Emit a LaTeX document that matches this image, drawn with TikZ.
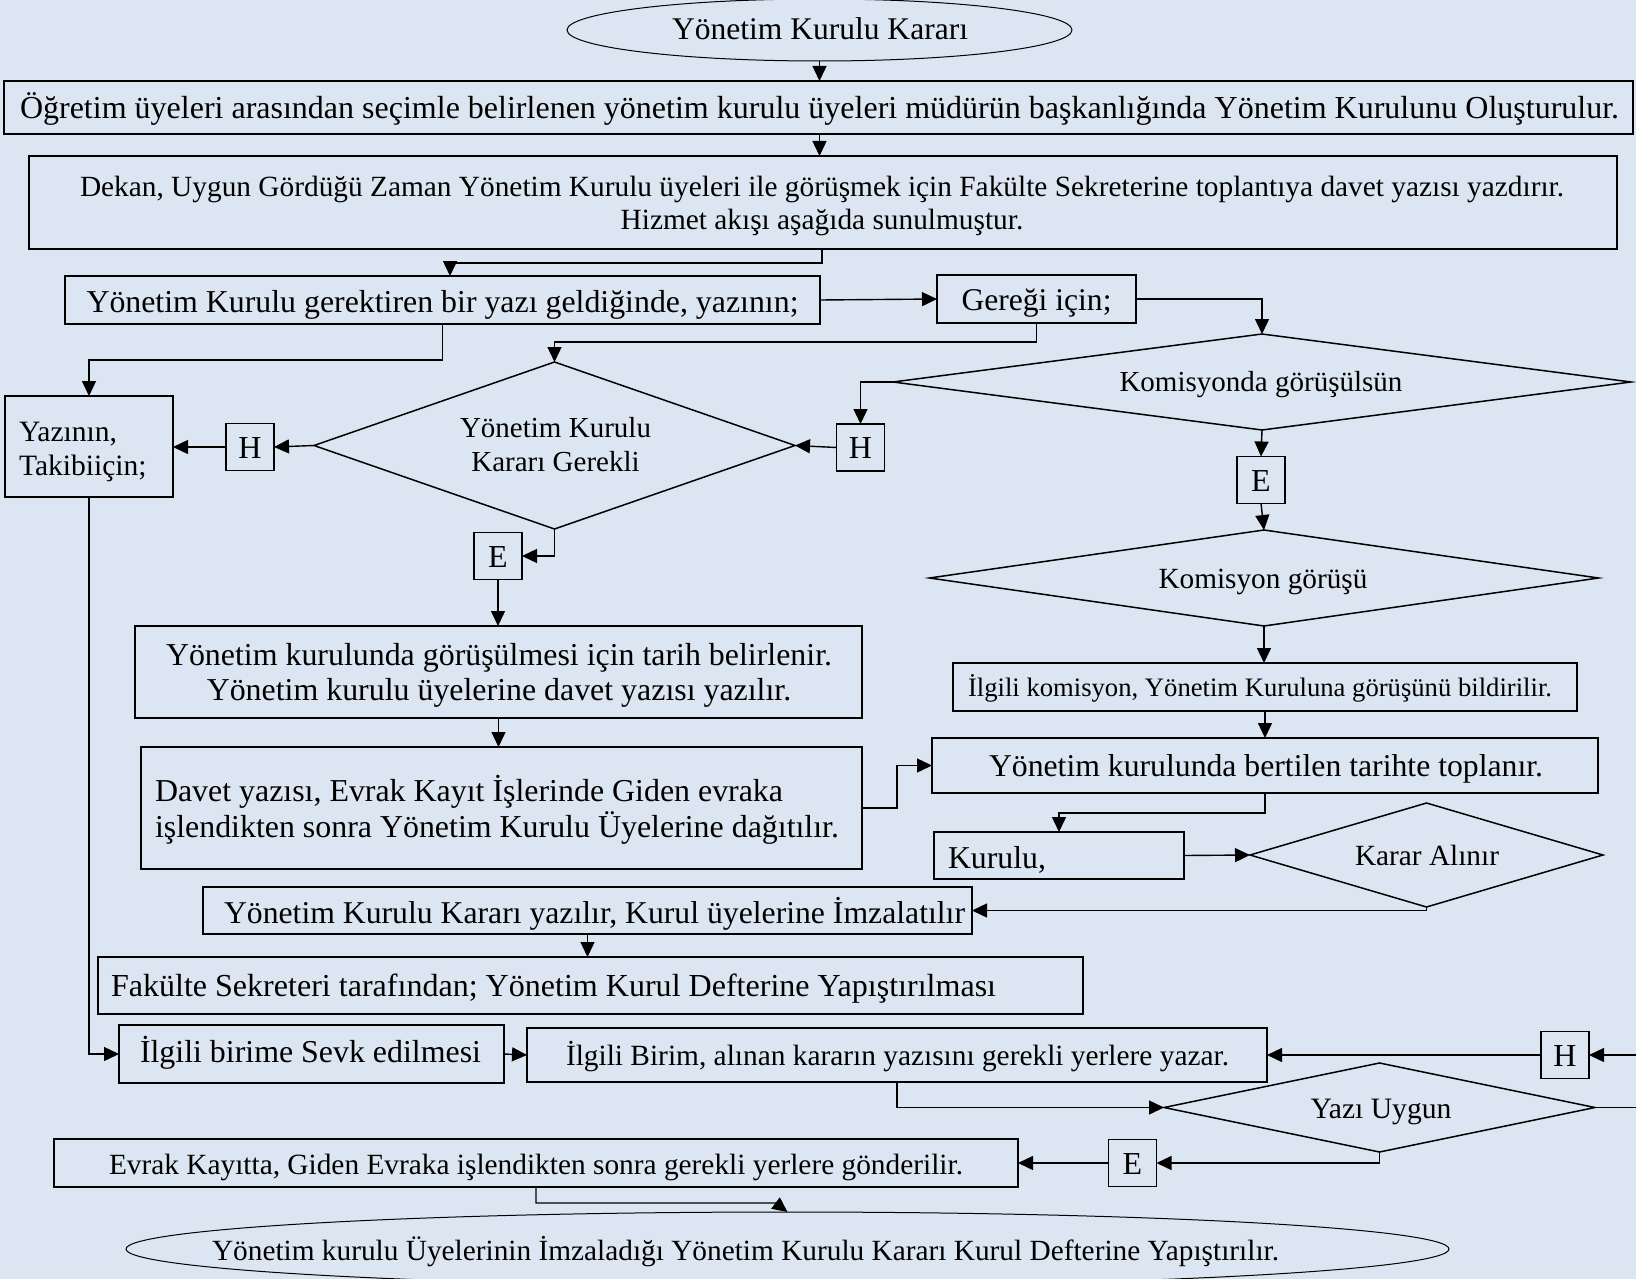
\documentclass[tikz,border=0pt]{standalone}
\usepackage{fontspec}
\setmainfont{Liberation Serif}
\usetikzlibrary{arrows.meta,shapes.geometric,calc}
\definecolor{bg}{RGB}{220,230,242}
\newlength\fitdim
\newcommand\fitsize[2]{\setbox0\hbox{\fontsize{10pt}{12pt}\selectfont #2}\fitdim=\wd0\relax\pgfmathsetmacro\fitfs{#1/\fitdim*10}\fontsize{\fitfs pt}{1.2\dimexpr\fitfs pt\relax}\selectfont}
% centred one-line text: #1 x shift, #2 baseline below centre, #3 text
\newcommand\ctrtxt[3]{\makebox[0pt]{\raisebox{-#2pt}[0pt][0pt]{\hspace*{#1pt}\hspace*{#1pt}#3}}}
% left-aligned one-line text: #1 left start relative to centre
\newcommand\lftxt[3]{\makebox[0pt][l]{\raisebox{-#2pt}[0pt][0pt]{\hspace*{#1pt}#3}}}
% two lines: #1 shift, #2 first baseline, #3 line distance, #4 #5 lines
\newcommand\ctwo[5]{\makebox[0pt]{\raisebox{-#2pt}[0pt][0pt]{\hspace*{#1pt}\hspace*{#1pt}\vtop{\baselineskip=#3pt\lineskiplimit=-100pt\lineskip=0pt\halign{\hfil##\hfil\cr#4\cr#5\cr}}}}}
\newcommand\ltwo[5]{\makebox[0pt][l]{\raisebox{-#2pt}[0pt][0pt]{\hspace*{#1pt}\vtop{\baselineskip=#3pt\lineskiplimit=-100pt\lineskip=0pt\halign{##\hfil\cr#4\cr#5\cr}}}}}
\begin{document}
\begin{tikzpicture}[x=1pt,y=-1pt,
  box/.style={draw, line width=1.5pt, rectangle, inner sep=0pt, outer sep=0pt},
  oval/.style={draw, line width=1pt, ellipse, inner sep=0pt, outer sep=0pt},
  dia/.style={draw, line width=1.5pt, diamond, inner sep=0pt, outer sep=0pt},
  arr/.style={line width=1.4pt, -{Triangle[length=15pt,width=14pt]}},
  ln/.style={line width=1.4pt},
  sq/.style={box, minimum width=48pt, minimum height=47pt, font=\fontsize{32pt}{36pt}\selectfont}
]
\fill[bg] (0,0) rectangle (1636,1279);
\useasboundingbox (0,0) rectangle (1636,1279);

\node[oval, minimum width=505pt, minimum height=62pt, font={\fitsize{296}{Yönetim Kurulu Kararı}}] (top) at (819.5,30) {\ctrtxt{0.5}{9.3}{Yönetim Kurulu Kararı}};
\node[box, minimum width=1629pt, minimum height=53pt, font={\fitsize{1599}{Öğretim üyeleri arasından seçimle belirlenen yönetim kurulu üyeleri müdürün başkanlığında Yönetim Kurulunu Oluşturulur.}}] (o) at (818.5,107.5) {\ctrtxt{1}{10.8}{Öğretim üyeleri arasından seçimle belirlenen yönetim kurulu üyeleri müdürün başkanlığında Yönetim Kurulunu Oluşturulur.}};
\node[box, minimum width=1588pt, minimum height=93pt, font={\fitsize{1484}{Dekan, Uygun Gördüğü Zaman Yönetim Kurulu üyeleri ile görüşmek için Fakülte Sekreterine toplantıya davet yazısı yazdırır.}}] (dek) at (823,202.5) {\ctwo{-1}{-5.8}{33.3}{Dekan, Uygun Gördüğü Zaman Yönetim Kurulu üyeleri ile görüşmek için Fakülte Sekreterine toplantıya davet yazısı yazdırır.}{Hizmet akışı aşağıda sunulmuştur.}};
\node[box, minimum width=755pt, minimum height=48pt, font={\fitsize{712}{Yönetim Kurulu gerektiren bir yazı geldiğinde, yazının;}}] (kg) at (442.5,300) {\ctrtxt{0}{12.3}{Yönetim Kurulu gerektiren bir yazı geldiğinde, yazının;}};
\node[box, minimum width=199pt, minimum height=48pt, font={\fitsize{150}{Gereği için;}}] (ger) at (1036.5,299) {\ctrtxt{0}{11.7}{Gereği için;}};
\node[box, minimum width=168pt, minimum height=101pt, font={\fitsize{98}{Yazının,}}] (yaz) at (89,446.5) {\ltwo{-70}{-4.8}{33.3}{Yazının,}{Takibiiçin;}};
\node[sq] (h1) at (250,447) {\ctrtxt{0}{11.3}{H}};
\node[dia, minimum width=481pt, minimum height=167pt, font={\fitsize{191}{Yönetim Kurulu}}] (d1) at (554.5,445.5) {\ctwo{1}{-7.8}{34}{Yönetim Kurulu}{Kararı Gerekli}};
\node[sq] (h2) at (860.5,447.5) {\ctrtxt{0}{11.3}{H}};
\node[dia, minimum width=738pt, minimum height=96pt, font={\fitsize{283}{Komisyonda görüşülsün}}] (d2) at (1262,382) {\ctrtxt{-1}{9.7}{Komisyonda görüşülsün}};
\node[sq] (e1) at (1261,480) {\ctrtxt{0}{11.3}{E}};
\node[dia, minimum width=669pt, minimum height=96pt, font={\fitsize{209}{Komisyon görüşü}}] (d3) at (1264,578) {\ctrtxt{-1}{10.3}{Komisyon görüşü}};
\node[box, minimum width=624pt, minimum height=48pt, font={\fitsize{584}{İlgili komisyon, Yönetim Kuruluna görüşünü bildirilir.}}] (ik) at (1265,687) {\ctrtxt{-5}{9.7}{İlgili komisyon, Yönetim Kuruluna görüşünü bildirilir.}};
\node[box, minimum width=666pt, minimum height=55pt, font={\fitsize{554}{Yönetim kurulunda bertilen tarihte toplanır.}}] (bt) at (1265,765.5) {\ctrtxt{1}{10.5}{Yönetim kurulunda bertilen tarihte toplanır.}};
\node[sq] (e2) at (498,556) {\ctrtxt{0}{11.3}{E}};
\node[box, minimum width=727pt, minimum height=92pt, font={\fitsize{666}{Yönetim kurulunda görüşülmesi için tarih belirlenir.}}] (gt) at (498.5,672) {\ctwo{0.5}{-7}{35}{Yönetim kurulunda görüşülmesi için tarih belirlenir.}{Yönetim kurulu üyelerine davet yazısı yazılır.}};
\node[box, minimum width=721pt, minimum height=122pt, font={\fitsize{684}{işlendikten sonra Yönetim Kurulu Üyelerine dağıtılır.}}] (dv) at (501.5,808) {\ltwo{-346.5}{-7}{36.7}{Davet yazısı, Evrak Kayıt İşlerinde Giden evraka}{işlendikten sonra Yönetim Kurulu Üyelerine dağıtılır.}};
\node[box, minimum width=250pt, minimum height=47pt, font={\fitsize{98}{Kurulu,}}] (ku) at (1059,855.5) {\lftxt{-111}{12.8}{Kurulu,}};
\node[dia, minimum width=353pt, minimum height=104pt, font={\fitsize{144}{Karar Alınır}}] (d4) at (1426.5,855) {\ctrtxt{0.5}{10.7}{Karar Alınır}};
\node[box, minimum width=769pt, minimum height=47pt, font={\fitsize{741}{Yönetim Kurulu Kararı yazılır, Kurul üyelerine İmzalatılır}}] (ky) at (587.5,910.5) {\ctrtxt{7}{12.8}{Yönetim Kurulu Kararı yazılır, Kurul üyelerine İmzalatılır}};
\node[box, minimum width=985pt, minimum height=57pt, font={\fitsize{885}{Fakülte Sekreteri tarafından; Yönetim Kurul Defterine Yapıştırılması}}] (fk) at (590.5,985.5) {\lftxt{-479.5}{11.2}{Fakülte Sekreteri tarafından; Yönetim Kurul Defterine Yapıştırılması}};
\node[box, minimum width=385pt, minimum height=58pt, font={\fitsize{341}{İlgili birime Sevk edilmesi}}] (ib) at (311.5,1054) {\ctrtxt{-1}{8.7}{İlgili birime Sevk edilmesi}};
\node[box, minimum width=740pt, minimum height=54pt, font={\fitsize{663}{İlgili Birim, alınan kararın yazısını gerekli yerlere yazar.}}] (ibr) at (897,1055) {\ctrtxt{0.5}{10}{İlgili Birim, alınan kararın yazısını gerekli yerlere yazar.}};
\node[sq] (h3) at (1565,1055) {\ctrtxt{0}{11.3}{H}};
\node[dia, minimum width=431pt, minimum height=89pt, font={\fitsize{141}{Yazı Uygun}}] (d5) at (1379.5,1107.5) {\ctrtxt{1.5}{10.8}{Yazı Uygun}};
\node[sq] (e3) at (1132.5,1163) {\ctrtxt{0}{11.3}{E}};
\node[box, minimum width=964pt, minimum height=48pt, font={\fitsize{854}{Evrak Kayıtta, Giden Evraka işlendikten sonra gerekli yerlere gönderilir.}}] (ev) at (536,1163) {\ctrtxt{0}{11.3}{Evrak Kayıtta, Giden Evraka işlendikten sonra gerekli yerlere gönderilir.}};
\node[oval, minimum width=1323pt, minimum height=74pt, font={\fitsize{1067}{Yönetim kurulu Üyelerinin İmzaladığı Yönetim Kurulu Kararı Kurul Defterine Yapıştırılır.}}] (be) at (787.5,1249) {\ctrtxt{-42}{11}{Yönetim kurulu Üyelerinin İmzaladığı Yönetim Kurulu Kararı Kurul Defterine Yapıştırılır.}};
\coordinate (r1) at (1636,1055);
\coordinate (r2) at (1636,1107.5);

% connectors
\draw[arr] (top.south) -- (top.south |- o.north);
\draw[arr] (top.south |- o.south) -- (top.south |- dek.north);
\draw[arr] ([xshift=-1pt]dek.south) -- ++(0,14) -| ([xshift=7.5pt]kg.north);
\draw[arr] (kg.east) -- (ger.west);
\draw[arr] (ger.east) -| (d2.north);
\draw[arr] (ger.south) -- ++(0,19) -| (d1.north);
\draw[arr] (kg.south) -- ++(0,36) -| (yaz.north);
\draw[arr] (d1.west) -- (h1.east);
\draw[arr] (h1.west) -- (yaz.east |- h1.west);
\draw[arr] (d2.west) -| (h2.north);
\draw[arr] (h2.west) -- (d1.east);
\draw[arr] (d2.south) -- (e1.north);
\draw[arr] (e1.south) -- (d3.north);
\draw[arr] (d1.south) |- (e2.east);
\draw[arr] (e2.south) -- (e2.south |- gt.north);
\draw[arr] (gt.south) -- (gt.south |- dv.north);
\draw[arr] (d3.south) -- (d3.south |- ik.north);
\draw[arr] (ik.south) -- (ik.south |- bt.north);
\draw[arr] (dv.east) -- ++(35,0) |- (bt.west);
\draw[arr] (bt.south) -- ++(0,20) -| (ku.north);
\draw[arr] (ku.east) -- (d4.west);
\draw[arr] (d4.south) |- (ky.east);
\draw[arr] (ky.south) -- (ky.south |- fk.north);
\draw[arr] (yaz.south) |- (ib.west);
\draw[arr] (ib.east) -- (ibr.west);
\draw[arr] (r1) -- (h3.east);
\draw[arr] (h3.west) -- (ibr.east |- h3.west);
\draw[arr] (ibr.south) |- (d5.west);
\draw[ln] (d5.east) -- (r2);
\draw[arr] (d5.south) |- (e3.east);
\draw[arr] (e3.west) -- (ev.east |- e3.west);
\draw[arr] (ev.south) |- ([xshift=-12pt,yshift=9pt]be.north) -- (be.north);
\end{tikzpicture}
\end{document}
